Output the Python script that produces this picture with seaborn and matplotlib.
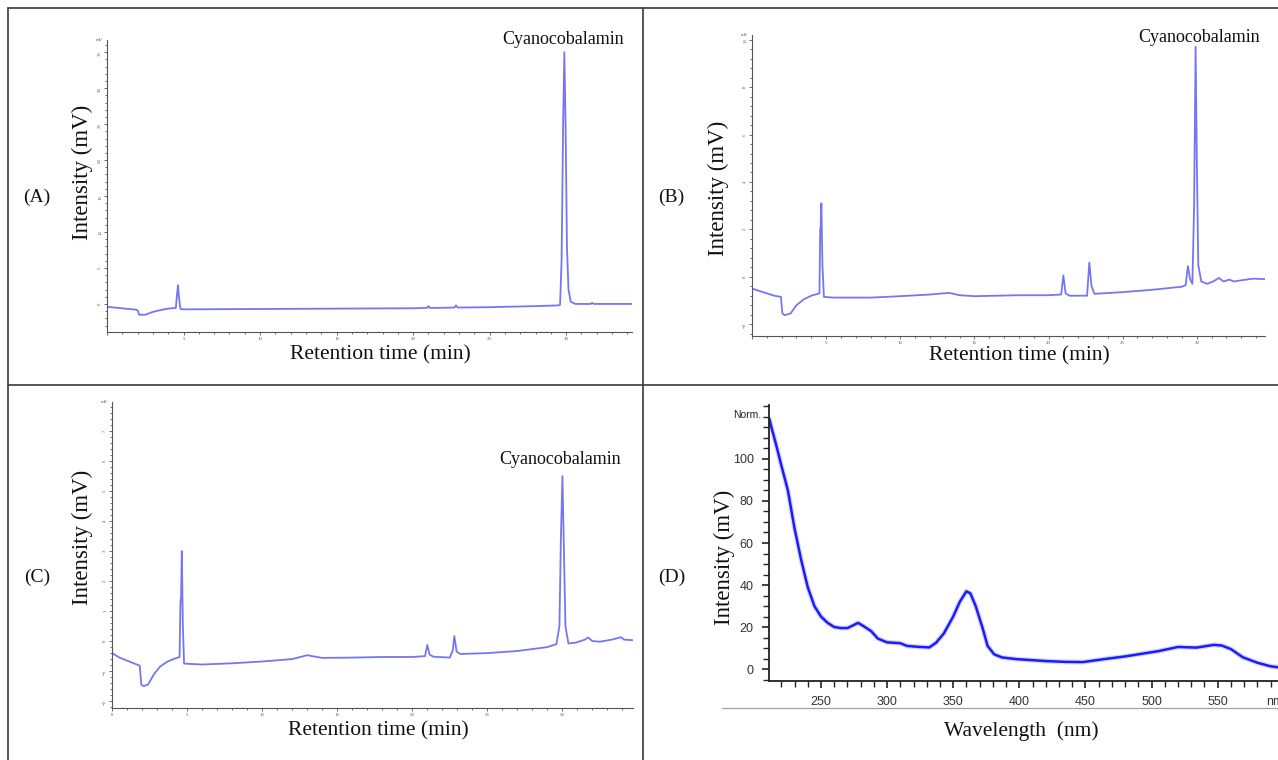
import matplotlib
matplotlib.use('Agg')
import matplotlib.pyplot as plt
import seaborn as sns
import pandas as pd
from matplotlib.lines import Line2D
from matplotlib.ticker import MultipleLocator

W, H = 1278, 760

# (A) chromatogram: retention time (min) / intensity (mV)
a_time = [0, 1.9, 2.0, 2.1, 2.5, 3.0, 3.5, 4.0, 4.5, 4.58, 4.64, 4.7, 4.8, 5.0,
          10, 15, 20, 20.9, 21.0, 21.1, 21.5, 22.7, 22.8, 22.9, 25, 28, 29.5,
          29.6, 29.7, 29.8, 29.88, 29.96, 30.05, 30.15, 30.3, 30.6, 31.6, 31.7,
          31.8, 34.5]
a_signal = [-0.4, -0.8, -0.9, -1.5, -1.5, -1.1, -0.85, -0.65, -0.55, 1.5, 2.6,
            1.0, -0.7, -0.75, -0.7, -0.65, -0.6, -0.55, -0.3, -0.55, -0.55, -0.5,
            -0.2, -0.5, -0.45, -0.3, -0.2, -0.1, 6, 25, 35, 25, 8, 2, 0.3, 0.0,
            0.0, 0.15, 0.0, 0.0]

# (B) chromatogram
b_time = [0, 0.5, 1.0, 1.5, 1.95, 2.05, 2.2, 2.6, 3.0, 3.5, 4.0, 4.55, 4.6,
          4.63, 4.68, 4.75, 4.85, 5.5, 8, 10, 12, 13.3, 14, 15, 18, 20, 20.85,
          21.0, 21.15, 21.4, 22.6, 22.75, 22.9, 23.1, 25, 27, 29.0, 29.25,
          29.4, 29.55, 29.7, 29.82, 29.92, 30.0, 30.1, 30.3, 30.7, 31.1, 31.5,
          31.8, 32.2, 32.5, 33.0, 33.8, 34.6]
b_signal = [-0.5, -0.6, -0.7, -0.8, -0.85, -1.55, -1.62, -1.55, -1.2, -0.95,
            -0.8, -0.7, 2.0, 2.1, 3.1, 0.5, -0.85, -0.88, -0.88, -0.82, -0.75,
            -0.68, -0.78, -0.82, -0.78, -0.78, -0.75, 0.05, -0.7, -0.8, -0.8,
            0.6, -0.4, -0.72, -0.65, -0.55, -0.42, -0.35, 0.45, -0.1, -0.3, 3,
            9.7, 5, 0.5, -0.2, -0.3, -0.2, -0.05, -0.2, -0.12, -0.2, -0.15,
            -0.08, -0.1]

# (C) chromatogram
c_time = [0, 0.5, 1.0, 1.5, 1.85, 1.95, 2.1, 2.4, 2.8, 3.2, 3.7, 4.2, 4.5,
          4.56, 4.6, 4.65, 4.72, 4.8, 6, 8, 10, 12, 13.0, 14, 16, 18, 20,
          20.85, 21.0, 21.15, 21.4, 22.5, 22.7, 22.8, 22.95, 23.2, 25, 27,
          29.0, 29.6, 29.8, 29.9, 30.0, 30.1, 30.2, 30.4, 30.9, 31.5, 31.7,
          32.0, 32.5, 33.3, 33.9, 34.1, 34.7]
c_signal = [-0.4, -0.55, -0.65, -0.75, -0.82, -1.45, -1.5, -1.45, -1.1, -0.85,
            -0.68, -0.58, -0.53, 1.3, 1.45, 3.0, 0.5, -0.75, -0.78, -0.74,
            -0.68, -0.6, -0.47, -0.56, -0.55, -0.53, -0.53, -0.5, -0.13, -0.45,
            -0.52, -0.55, -0.3, 0.17, -0.35, -0.43, -0.4, -0.33, -0.2, -0.1,
            0.5, 3.5, 5.5, 3, 0.5, -0.08, -0.05, 0.05, 0.12, 0.0, -0.02, 0.05,
            0.13, 0.05, 0.03]

# (D) UV spectrum: wavelength (nm) / intensity
d_wavelength = [211, 213, 216, 220, 225, 230, 235, 240, 245, 250, 255, 260, 265,
                270, 275, 278, 282, 288, 293, 300, 310, 315, 325, 332, 337, 343,
                350, 355, 360, 363, 367, 372, 376, 381, 387, 398, 420, 435, 448,
                464, 480, 492, 505, 520, 534, 547, 553, 560, 569, 580, 590, 600,
                610]
d_intensity = [119, 114, 107, 97, 85, 67, 52, 39, 30, 25, 22, 20, 19.5, 19.5,
               21, 22, 20.5, 18, 14.5, 12.7, 12.3, 11, 10.5, 10.3, 12.5, 17, 25,
               32, 37, 36, 30, 20, 11, 7, 5.5, 4.7, 3.8, 3.4, 3.3, 4.7, 6, 7.2,
               8.5, 10.5, 10.2, 11.5, 11.2, 9.5, 5.6, 3, 1.3, 0.5, 0]
d_tick_labels = ['250', '300', '350', '400', '450', '500', '550', 'nm']

chrom_blue = '#7676f2'
uv_blue = '#1c1cf8'
tick_grey = '#555555'

sns.set_style('white')
plt.rcParams['font.family'] = ['Liberation Serif', 'DejaVu Serif']

fig = plt.figure(figsize=(W / 100, H / 100), dpi=100)


def add_panel(left, top, right, bottom):
    return fig.add_axes([left / W, 1 - bottom / H, (right - left) / W, (bottom - top) / H])


def fig_text(x, y, s, **kw):
    fig.text(x / W, 1 - y / H, s, ha='center', va='center', **kw)


def chromatogram(ax, t, mv, xmax, ylim, ymajor, yminor, show_zero):
    df = pd.DataFrame({'time': t, 'mV': mv})
    sns.lineplot(data=df, x='time', y='mV', ax=ax, sort=False, estimator=None,
                 color=chrom_blue, lw=1.3)
    ax.set_xlim(0, xmax)
    ax.set_ylim(*ylim)
    xt = list(range(0, 35, 5))
    ax.set_xticks(xt, [str(v) if (v or show_zero) else '' for v in xt])
    ax.xaxis.set_minor_locator(MultipleLocator(1))
    ax.yaxis.set_major_locator(MultipleLocator(ymajor))
    ax.yaxis.set_minor_locator(MultipleLocator(yminor))
    for s in ['top', 'right']:
        ax.spines[s].set_visible(False)
    for s in ['left', 'bottom']:
        ax.spines[s].set_color(tick_grey)
        ax.spines[s].set_linewidth(0.8)
    ax.tick_params(which='both', direction='out', labelsize=3.5, colors=tick_grey,
                   width=0.6, pad=1, bottom=True, left=True)
    ax.tick_params(axis='y', labelrotation=90)
    ax.tick_params(which='major', length=2.5)
    ax.tick_params(which='minor', length=1.5)
    ax.set_xlabel('')
    ax.set_ylabel('')
    ax.text(-0.008, 1.0, 'mV', transform=ax.transAxes, fontsize=3.5, ha='right',
            va='center', color=tick_grey)


ax_a = add_panel(107, 40, 632, 332)
chromatogram(ax_a, a_time, a_signal, 34.3, (-3.9, 36.7), 5, 1, False)

ax_b = add_panel(752, 35, 1265, 336)
chromatogram(ax_b, b_time, b_signal, 34.6, (-2.5, 10.2), 2, 0.4, False)

ax_c = add_panel(112, 402, 633, 708)
chromatogram(ax_c, c_time, c_signal, 34.7, (-2.23, 7.97), 1, 0.2, True)

# UV spectrum
ax_d = add_panel(769, 405, 1297, 681)
uv = pd.DataFrame({'nm': d_wavelength, 'intensity': d_intensity})
sns.lineplot(data=uv, x='nm', y='intensity', ax=ax_d, sort=False, estimator=None,
             color='#8a8aff', lw=3.6, alpha=0.35)
sns.lineplot(data=uv, x='nm', y='intensity', ax=ax_d, sort=False, estimator=None,
             color=uv_blue, lw=1.8)
ax_d.set_xlim(210.7, 610)
ax_d.set_ylim(-5.7, 125.7)
ax_d.set_xticks(range(250, 601, 50), d_tick_labels)
ax_d.xaxis.set_minor_locator(MultipleLocator(10))
ax_d.set_yticks(range(0, 101, 20))
ax_d.yaxis.set_minor_locator(MultipleLocator(5))
for s in ['top', 'right']:
    ax_d.spines[s].set_visible(False)
for s in ['left', 'bottom']:
    ax_d.spines[s].set_color('#222222')
    ax_d.spines[s].set_linewidth(1.3)
ax_d.tick_params(which='both', direction='out', colors='#222222', labelsize=9,
                 labelcolor='#333333', bottom=True, left=True)
ax_d.tick_params(which='major', length=5, width=1.2, pad=6)
ax_d.tick_params(which='minor', length=4, width=1.0)
for lab in ax_d.get_xticklabels() + ax_d.get_yticklabels():
    lab.set_family('Liberation Sans')
ax_d.get_xticklabels()[-1].set_ha('right')
ax_d.set_xlabel('')
ax_d.set_ylabel('')
ax_d.text(-0.015, 121, 'Norm.', transform=ax_d.get_yaxis_transform(), fontsize=7.5,
          ha='right', va='center', family='Liberation Sans', color='#222222')

# panel letters and axis titles
title_kw = dict(fontsize=15.5, color='#111111')
for x, y, s in [(37, 197, '(A)'), (671, 197, '(B)'), (37, 577, '(C)'), (672, 577, '(D)')]:
    fig_text(x, y, s, fontsize=14, color='#111111')
for x, y in [(82, 172), (718, 188), (82, 537), (724, 557)]:
    fig_text(x, y, 'Intensity (mV)', rotation=90, fontsize=16.5, color='#111111')
for x, y in [(380, 355), (1019, 356), (378, 731)]:
    fig_text(x, y, 'Retention time (min)', **title_kw)
fig_text(1021, 731, 'Wavelength  (nm)', **title_kw)
for x, y in [(563, 40), (1199, 38), (560, 460)]:
    fig_text(x, y, 'Cyanocobalamin', fontsize=13, color='#111111')

# table grid around the panels
grid = '#3a3a3a'
for xs, ys in [([8, 8], [8, 760]), ([8, 1278], [8, 8]), ([643, 643], [8, 760]),
               ([8, 1278], [385, 385])]:
    fig.add_artist(Line2D([x / W for x in xs], [1 - y / H for y in ys],
                          transform=fig.transFigure, color=grid, lw=1.2))
fig.add_artist(Line2D([722 / W, 1], [1 - 708 / H, 1 - 708 / H],
                      transform=fig.transFigure, color='#a0a0a0', lw=0.9))

fig.savefig('out.png', dpi=100)
